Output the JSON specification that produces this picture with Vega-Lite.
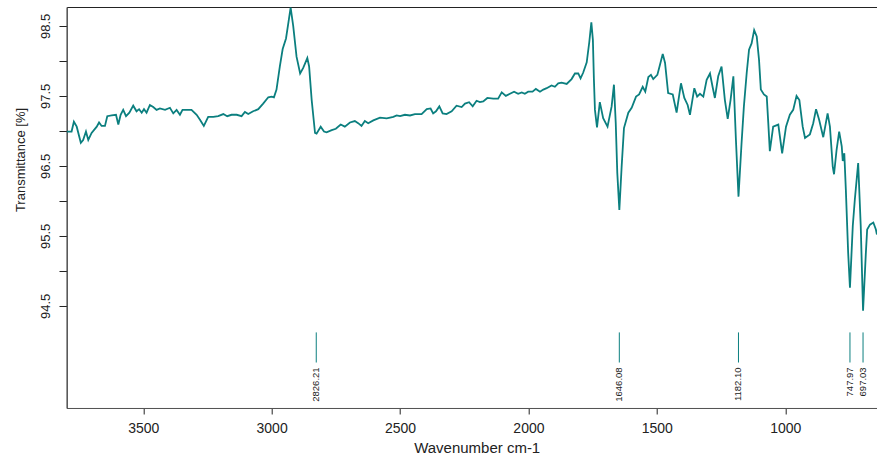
{
  "$schema": "https://vega.github.io/schema/vega-lite/v6.json",
  "width": 811,
  "height": 401,
  "autosize": {"type": "none"},
  "padding": {"left": 66.7, "top": 7, "right": 0, "bottom": 52},
  "background": "white",
  "config": {
    "view": {"stroke": "#222", "strokeWidth": 1},
    "font": "Liberation Sans",
    "axis": {"grid": false}
  },
  "datasets": {
    "spectrum": [
      {"wavenumber":3798,"transmittance":96.99},{"wavenumber":3779,"transmittance":96.99},{"wavenumber":3770,"transmittance":97.13},{"wavenumber":3759,"transmittance":97.06},{"wavenumber":3743,"transmittance":96.83},{"wavenumber":3734,"transmittance":96.87},{"wavenumber":3723,"transmittance":96.99},{"wavenumber":3714,"transmittance":96.87},{"wavenumber":3701,"transmittance":96.97},{"wavenumber":3681,"transmittance":97.06},{"wavenumber":3672,"transmittance":97.12},{"wavenumber":3662,"transmittance":97.07},{"wavenumber":3649,"transmittance":97.07},{"wavenumber":3640,"transmittance":97.21},{"wavenumber":3623,"transmittance":97.22},{"wavenumber":3606,"transmittance":97.23},{"wavenumber":3597,"transmittance":97.09},{"wavenumber":3588,"transmittance":97.23},{"wavenumber":3578,"transmittance":97.30},{"wavenumber":3567,"transmittance":97.21},{"wavenumber":3554,"transmittance":97.26},{"wavenumber":3539,"transmittance":97.36},{"wavenumber":3526,"transmittance":97.28},{"wavenumber":3516,"transmittance":97.31},{"wavenumber":3506,"transmittance":97.26},{"wavenumber":3497,"transmittance":97.31},{"wavenumber":3487,"transmittance":97.26},{"wavenumber":3474,"transmittance":97.37},{"wavenumber":3461,"transmittance":97.34},{"wavenumber":3448,"transmittance":97.30},{"wavenumber":3435,"transmittance":97.32},{"wavenumber":3415,"transmittance":97.30},{"wavenumber":3396,"transmittance":97.33},{"wavenumber":3383,"transmittance":97.25},{"wavenumber":3370,"transmittance":97.30},{"wavenumber":3357,"transmittance":97.23},{"wavenumber":3347,"transmittance":97.30},{"wavenumber":3331,"transmittance":97.30},{"wavenumber":3312,"transmittance":97.30},{"wavenumber":3292,"transmittance":97.23},{"wavenumber":3279,"transmittance":97.16},{"wavenumber":3264,"transmittance":97.07},{"wavenumber":3247,"transmittance":97.20},{"wavenumber":3227,"transmittance":97.20},{"wavenumber":3208,"transmittance":97.21},{"wavenumber":3188,"transmittance":97.24},{"wavenumber":3173,"transmittance":97.21},{"wavenumber":3156,"transmittance":97.23},{"wavenumber":3136,"transmittance":97.23},{"wavenumber":3117,"transmittance":97.21},{"wavenumber":3104,"transmittance":97.27},{"wavenumber":3091,"transmittance":97.24},{"wavenumber":3072,"transmittance":97.28},{"wavenumber":3052,"transmittance":97.31},{"wavenumber":3033,"transmittance":97.39},{"wavenumber":3013,"transmittance":97.48},{"wavenumber":3000,"transmittance":97.49},{"wavenumber":2991,"transmittance":97.48},{"wavenumber":2981,"transmittance":97.59},{"wavenumber":2968,"transmittance":97.92},{"wavenumber":2957,"transmittance":98.17},{"wavenumber":2944,"transmittance":98.32},{"wavenumber":2935,"transmittance":98.54},{"wavenumber":2926,"transmittance":98.76},{"wavenumber":2916,"transmittance":98.50},{"wavenumber":2903,"transmittance":98.06},{"wavenumber":2889,"transmittance":97.82},{"wavenumber":2877,"transmittance":97.90},{"wavenumber":2861,"transmittance":98.04},{"wavenumber":2854,"transmittance":97.92},{"wavenumber":2844,"transmittance":97.44},{"wavenumber":2831,"transmittance":96.97},{"wavenumber":2825,"transmittance":96.96},{"wavenumber":2809,"transmittance":97.06},{"wavenumber":2796,"transmittance":96.99},{"wavenumber":2786,"transmittance":96.98},{"wavenumber":2766,"transmittance":97.01},{"wavenumber":2750,"transmittance":97.03},{"wavenumber":2731,"transmittance":97.09},{"wavenumber":2715,"transmittance":97.06},{"wavenumber":2695,"transmittance":97.12},{"wavenumber":2676,"transmittance":97.14},{"wavenumber":2663,"transmittance":97.11},{"wavenumber":2650,"transmittance":97.07},{"wavenumber":2637,"transmittance":97.14},{"wavenumber":2624,"transmittance":97.11},{"wavenumber":2604,"transmittance":97.15},{"wavenumber":2578,"transmittance":97.19},{"wavenumber":2552,"transmittance":97.18},{"wavenumber":2526,"transmittance":97.20},{"wavenumber":2513,"transmittance":97.22},{"wavenumber":2500,"transmittance":97.21},{"wavenumber":2481,"transmittance":97.23},{"wavenumber":2461,"transmittance":97.22},{"wavenumber":2442,"transmittance":97.24},{"wavenumber":2416,"transmittance":97.24},{"wavenumber":2396,"transmittance":97.31},{"wavenumber":2381,"transmittance":97.32},{"wavenumber":2371,"transmittance":97.25},{"wavenumber":2360,"transmittance":97.28},{"wavenumber":2347,"transmittance":97.35},{"wavenumber":2334,"transmittance":97.25},{"wavenumber":2319,"transmittance":97.24},{"wavenumber":2299,"transmittance":97.28},{"wavenumber":2280,"transmittance":97.36},{"wavenumber":2260,"transmittance":97.34},{"wavenumber":2247,"transmittance":97.39},{"wavenumber":2231,"transmittance":97.41},{"wavenumber":2217,"transmittance":97.35},{"wavenumber":2202,"transmittance":97.43},{"wavenumber":2189,"transmittance":97.41},{"wavenumber":2176,"transmittance":97.42},{"wavenumber":2160,"transmittance":97.47},{"wavenumber":2137,"transmittance":97.46},{"wavenumber":2118,"transmittance":97.46},{"wavenumber":2104,"transmittance":97.55},{"wavenumber":2088,"transmittance":97.50},{"wavenumber":2072,"transmittance":97.53},{"wavenumber":2056,"transmittance":97.56},{"wavenumber":2040,"transmittance":97.53},{"wavenumber":2026,"transmittance":97.55},{"wavenumber":2014,"transmittance":97.53},{"wavenumber":2001,"transmittance":97.56},{"wavenumber":1984,"transmittance":97.56},{"wavenumber":1971,"transmittance":97.60},{"wavenumber":1955,"transmittance":97.56},{"wavenumber":1942,"transmittance":97.59},{"wavenumber":1929,"transmittance":97.61},{"wavenumber":1910,"transmittance":97.65},{"wavenumber":1897,"transmittance":97.63},{"wavenumber":1884,"transmittance":97.68},{"wavenumber":1871,"transmittance":97.69},{"wavenumber":1851,"transmittance":97.67},{"wavenumber":1832,"transmittance":97.74},{"wavenumber":1819,"transmittance":97.82},{"wavenumber":1806,"transmittance":97.82},{"wavenumber":1797,"transmittance":97.75},{"wavenumber":1787,"transmittance":97.83},{"wavenumber":1773,"transmittance":97.98},{"wavenumber":1763,"transmittance":98.27},{"wavenumber":1755,"transmittance":98.55},{"wavenumber":1749,"transmittance":98.30},{"wavenumber":1745,"transmittance":97.73},{"wavenumber":1741,"transmittance":97.30},{"wavenumber":1733,"transmittance":97.05},{"wavenumber":1722,"transmittance":97.41},{"wavenumber":1709,"transmittance":97.18},{"wavenumber":1692,"transmittance":97.06},{"wavenumber":1676,"transmittance":97.35},{"wavenumber":1667,"transmittance":97.66},{"wavenumber":1660,"transmittance":97.11},{"wavenumber":1654,"transmittance":96.40},{"wavenumber":1646,"transmittance":95.87},{"wavenumber":1637,"transmittance":96.49},{"wavenumber":1628,"transmittance":97.04},{"wavenumber":1611,"transmittance":97.26},{"wavenumber":1598,"transmittance":97.33},{"wavenumber":1581,"transmittance":97.49},{"wavenumber":1569,"transmittance":97.52},{"wavenumber":1555,"transmittance":97.63},{"wavenumber":1545,"transmittance":97.56},{"wavenumber":1533,"transmittance":97.77},{"wavenumber":1523,"transmittance":97.80},{"wavenumber":1514,"transmittance":97.74},{"wavenumber":1498,"transmittance":97.80},{"wavenumber":1488,"transmittance":97.94},{"wavenumber":1477,"transmittance":98.10},{"wavenumber":1468,"transmittance":97.97},{"wavenumber":1456,"transmittance":97.54},{"wavenumber":1438,"transmittance":97.52},{"wavenumber":1423,"transmittance":97.26},{"wavenumber":1406,"transmittance":97.68},{"wavenumber":1393,"transmittance":97.47},{"wavenumber":1380,"transmittance":97.37},{"wavenumber":1371,"transmittance":97.23},{"wavenumber":1354,"transmittance":97.61},{"wavenumber":1343,"transmittance":97.49},{"wavenumber":1332,"transmittance":97.53},{"wavenumber":1319,"transmittance":97.49},{"wavenumber":1306,"transmittance":97.73},{"wavenumber":1293,"transmittance":97.82},{"wavenumber":1283,"transmittance":97.63},{"wavenumber":1274,"transmittance":97.47},{"wavenumber":1261,"transmittance":97.78},{"wavenumber":1248,"transmittance":97.92},{"wavenumber":1235,"transmittance":97.44},{"wavenumber":1224,"transmittance":97.17},{"wavenumber":1213,"transmittance":97.44},{"wavenumber":1202,"transmittance":97.78},{"wavenumber":1192,"transmittance":96.87},{"wavenumber":1182,"transmittance":96.06},{"wavenumber":1170,"transmittance":96.83},{"wavenumber":1161,"transmittance":97.35},{"wavenumber":1150,"transmittance":97.83},{"wavenumber":1141,"transmittance":98.16},{"wavenumber":1131,"transmittance":98.25},{"wavenumber":1121,"transmittance":98.44},{"wavenumber":1111,"transmittance":98.35},{"wavenumber":1102,"transmittance":98.01},{"wavenumber":1095,"transmittance":97.59},{"wavenumber":1083,"transmittance":97.52},{"wavenumber":1072,"transmittance":97.49},{"wavenumber":1066,"transmittance":97.11},{"wavenumber":1060,"transmittance":96.71},{"wavenumber":1047,"transmittance":97.06},{"wavenumber":1027,"transmittance":97.09},{"wavenumber":1012,"transmittance":96.68},{"wavenumber":997,"transmittance":97.06},{"wavenumber":982,"transmittance":97.23},{"wavenumber":969,"transmittance":97.30},{"wavenumber":956,"transmittance":97.50},{"wavenumber":945,"transmittance":97.44},{"wavenumber":932,"transmittance":97.06},{"wavenumber":923,"transmittance":96.90},{"wavenumber":904,"transmittance":96.95},{"wavenumber":891,"transmittance":97.11},{"wavenumber":880,"transmittance":97.31},{"wavenumber":868,"transmittance":97.16},{"wavenumber":852,"transmittance":96.91},{"wavenumber":843,"transmittance":97.09},{"wavenumber":835,"transmittance":97.25},{"wavenumber":826,"transmittance":97.06},{"wavenumber":815,"transmittance":96.49},{"wavenumber":810,"transmittance":96.38},{"wavenumber":800,"transmittance":96.73},{"wavenumber":790,"transmittance":96.99},{"wavenumber":780,"transmittance":96.78},{"wavenumber":776,"transmittance":96.57},{"wavenumber":770,"transmittance":96.68},{"wavenumber":764,"transmittance":96.16},{"wavenumber":755,"transmittance":95.26},{"wavenumber":748,"transmittance":94.76},{"wavenumber":737,"transmittance":95.64},{"wavenumber":729,"transmittance":96.02},{"wavenumber":716,"transmittance":96.54},{"wavenumber":706,"transmittance":95.64},{"wavenumber":697,"transmittance":94.43},{"wavenumber":686,"transmittance":95.26},{"wavenumber":681,"transmittance":95.59},{"wavenumber":670,"transmittance":95.66},{"wavenumber":657,"transmittance":95.69},{"wavenumber":647,"transmittance":95.59},{"wavenumber":643,"transmittance":95.52}
    ],
    "peaks": [
      {"wavenumber": 2826.21, "label": "2826.21"},
      {"wavenumber": 1646.08, "label": "1646.08"},
      {"wavenumber": 1182.10, "label": "1182.10"},
      {"wavenumber": 747.97, "label": "747.97"},
      {"wavenumber": 697.03, "label": "697.03"}
    ]
  },
  "layer": [
    {
      "data": {"name": "spectrum"},
      "mark": {"type": "line", "color": "#0b7f7f", "strokeWidth": 1.8, "clip": true},
      "encoding": {
        "x": {
          "field": "wavenumber", "type": "quantitative",
          "scale": {"domain": [640, 3798], "reverse": true, "nice": false, "zero": false},
          "axis": {
            "title": "Wavenumber cm-1",
            "values": [1000, 1500, 2000, 2500, 3000, 3500],
            "format": "d",
            "tickSize": 6, "tickColor": "#222", "domainColor": "#555",
            "labelFontSize": 14, "labelColor": "#222", "labelPadding": 8,
            "titleFontSize": 15, "titleFontWeight": "normal", "titleColor": "#222",
            "titleX": 410, "titleY": 44.7, "titleAlign": "center", "titleBaseline": "alphabetic"
          }
        },
        "y": {
          "field": "transmittance", "type": "quantitative",
          "scale": {"domain": [93.04, 98.77], "nice": false, "zero": false},
          "axis": {
            "title": "Transmittance [%]",
            "values": [94.5, 95, 95.5, 96, 96.5, 97, 97.5, 98, 98.5],
            "labelExpr": "datum.value % 1 == 0.5 ? format(datum.value, '.1f') : ''",
            "labelOverlap": false, "labelFlush": false,
            "tickSize": 7.7, "tickColor": "#222", "domainColor": "#555",
            "labelAngle": 270, "labelAlign": "center", "labelBaseline": "bottom",
            "labelPadding": 6, "labelFontSize": 13, "labelColor": "#222",
            "titleAngle": 270, "titleX": -41.7, "titleY": 152.5,
            "titleAlign": "center", "titleBaseline": "alphabetic",
            "titleFontSize": 13, "titleFontWeight": "normal", "titleColor": "#222"
          }
        }
      }
    },
    {
      "data": {"name": "peaks"},
      "mark": {"type": "rule", "color": "#0b7f7f", "strokeWidth": 1},
      "encoding": {
        "x": {"field": "wavenumber", "type": "quantitative"},
        "y": {"datum": 94.12},
        "y2": {"datum": 93.69}
      }
    },
    {
      "data": {"name": "peaks"},
      "mark": {"type": "text", "angle": 270, "align": "right", "baseline": "middle", "fontSize": 9.5, "color": "#222"},
      "encoding": {
        "x": {"field": "wavenumber", "type": "quantitative"},
        "y": {"datum": 93.62},
        "text": {"field": "label"}
      }
    }
  ]
}
